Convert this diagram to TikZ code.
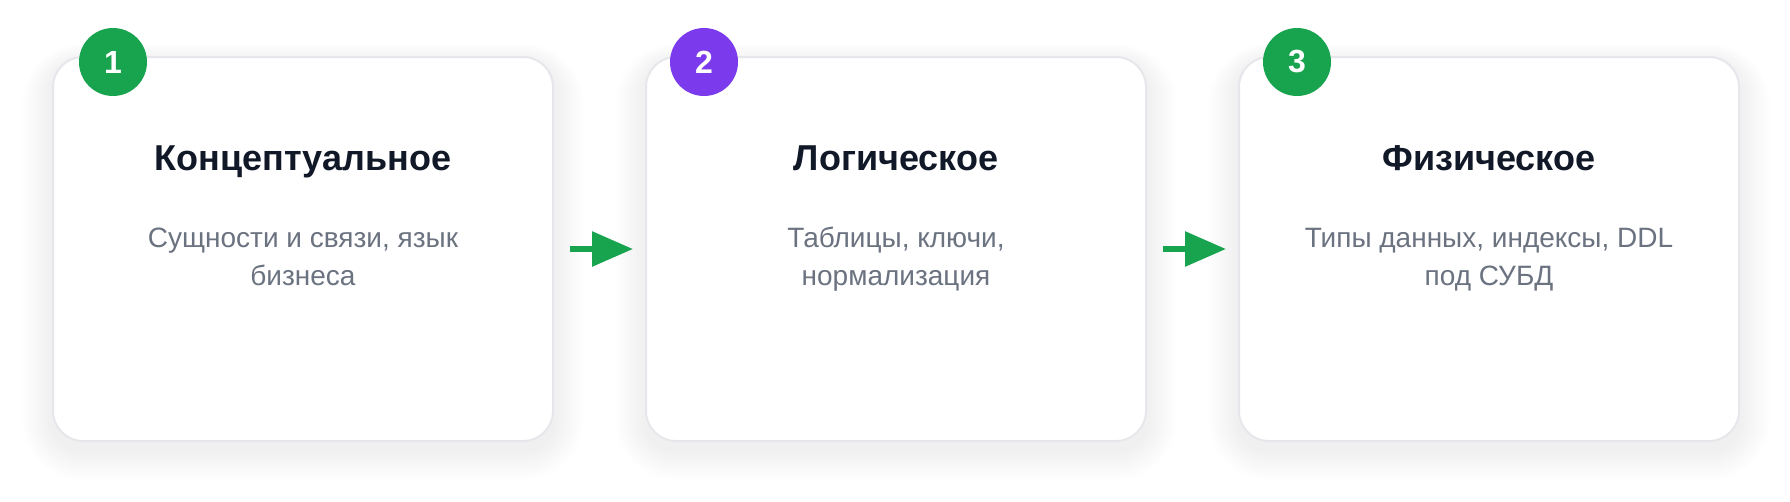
\documentclass[tikz,border=0pt]{standalone}
\usepackage{fontspec}
\setmainfont{Liberation Sans}
\usetikzlibrary{arrows.meta,backgrounds}

\definecolor{stepgreen}{HTML}{18A34F}
\definecolor{steppurple}{HTML}{7C3AED}
\definecolor{cardline}{HTML}{E5E7EB}
\definecolor{titleink}{HTML}{111827}
\definecolor{noteink}{HTML}{6B7280}

\tikzset{
  card/.style={draw=cardline, line width=2pt, fill=white, rounded corners=30pt,
    minimum width=500pt, minimum height=384pt},
  badge/.style={circle, fill=#1, minimum size=68pt, inner sep=0pt, text=white,
    font=\fontsize{32}{38}\selectfont\bfseries},
  heading/.style={anchor=base, text=titleink, font=\fontsize{36}{43}\selectfont\bfseries},
  note/.style={anchor=base, align=center, text=noteink, font=\fontsize{28}{38}\selectfont},
  flow/.style={draw=stepgreen, line width=6pt, -{Triangle[length=41pt,width=34pt]}},
}

\begin{document}
\begin{tikzpicture}[x=1pt,y=-1pt]
  \useasboundingbox (0,0) rectangle (1790,501);

  % the three cards
  \node[card] (c1) at (303,249) {};
  \node[card] (c2) at (896,249) {};
  \node[card] (c3) at (1489,249) {};

  % soft shadow under the cards
  \begin{scope}[on background layer]
    \foreach \c in {c1,c2,c3}
      \foreach \i in {2,4,...,30}
        \fill[black, opacity=0.0035, rounded corners=30pt+\i pt]
          ([shift={(-\i,-0.6*\i+6)}]\c.north west) rectangle ([shift={(\i,\i+8)}]\c.south east);
  \end{scope}

  % numbers
  \node[badge=stepgreen] (b1) at (113,62) {1};
  \node[badge=steppurple] (b2) at (704,62) {2};
  \node[badge=stepgreen] (b3) at (1297,62) {3};

  % texts
  \node[heading] (t1) at (303,170) {Концептуальное};
  \node[note] (n1) at (303,285) {Сущности и связи, язык\\бизнеса};

  \node[heading] (t2) at (896,170) {Логическое};
  \node[note] (n2) at (896,285) {Таблицы, ключи,\\нормализация};

  \node[heading] (t3) at (1489,170) {Физическое};
  \node[note] (n3) at (1489,285) {Типы данных, индексы, DDL\\под СУБД};

  % arrows
  \draw[flow] ([xshift=16pt]c1.east) -- ([xshift=-12pt]c2.west);
  \draw[flow] ([xshift=16pt]c2.east) -- ([xshift=-12pt]c3.west);
\end{tikzpicture}
\end{document}
